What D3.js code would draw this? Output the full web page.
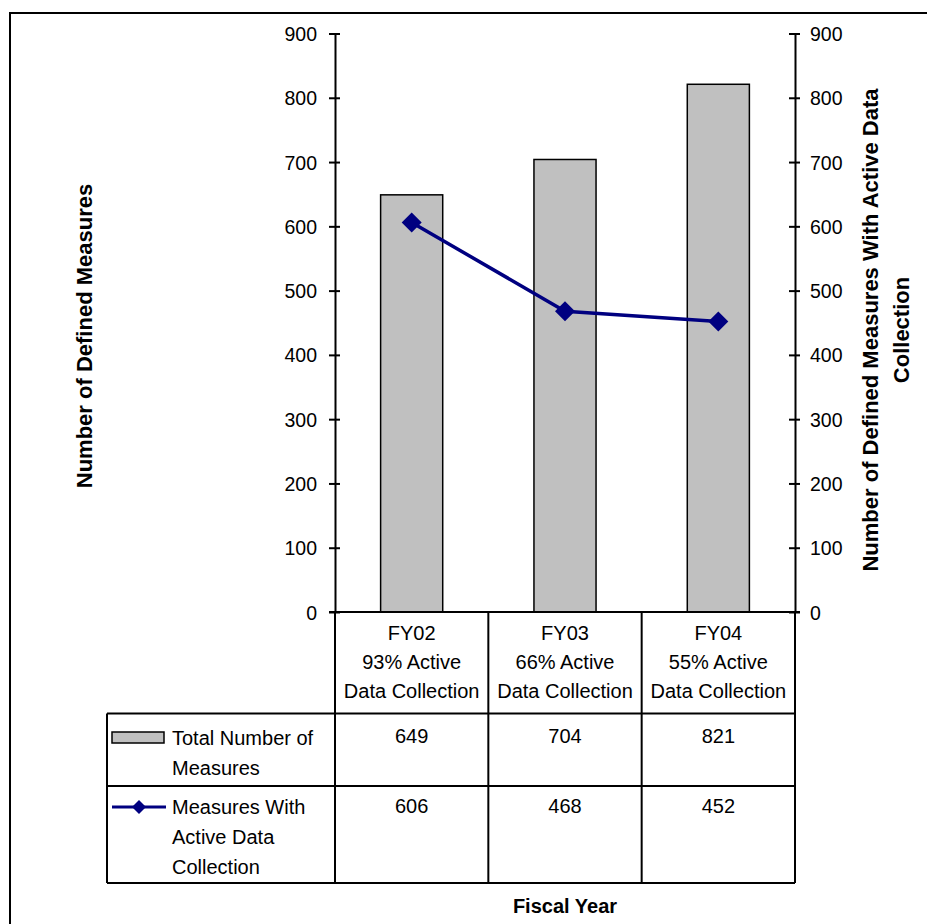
<!DOCTYPE html>
<html>
<head>
<meta charset="utf-8">
<script src="https://cdn.jsdelivr.net/npm/d3@7"></script>
<style>
  html, body { margin: 0; padding: 0; background: #fff; }
  svg { display: block; }
  text { font-family: Arial, "Liberation Sans", sans-serif; fill: #000; }
</style>
</head>
<body>
<svg id="chart" width="927" height="924"></svg>
<script>
// ---- Data ----
const categories = ["FY02", "FY03", "FY04"];
const categorySubLabels = [["93% Active", "Data Collection"], ["66% Active", "Data Collection"], ["55% Active", "Data Collection"]];
const totalMeasures = [649, 704, 821];
const activeMeasures = [606, 468, 452];
const yTicks = [0, 100, 200, 300, 400, 500, 600, 700, 800, 900];
const seriesNames = [["Total Number of", "Measures"], ["Measures With", "Active Data", "Collection"]];
const leftTitle = "Number of Defined Measures";
const rightTitleLines = ["Number of Defined Measures With Active Data", "Collection"];
const xTitle = "Fiscal Year";

// ---- Layout ----
const svg = d3.select("#chart");
const plotLeft = 335, plotRight = 795, plotTop = 33.5, plotBottom = 612;
const barColor = "#C0C0C0", lineColor = "#000080";

const x = d3.scaleBand().domain(categories).range([plotLeft, plotRight]).padding(0);
const y = d3.scaleLinear().domain([0, 900]).range([plotBottom, plotTop]);
const barW = x.bandwidth() * 0.405;

// outer frame
svg.append("rect").attr("x", 10).attr("y", 13).attr("width", 940).attr("height", 940)
  .attr("fill", "none").attr("stroke", "#000").attr("stroke-width", 2);

// bars
svg.append("g").selectAll("rect").data(categories).join("rect")
  .attr("x", d => x(d) + x.bandwidth() / 2 - barW / 2)
  .attr("y", (d, i) => y(totalMeasures[i]))
  .attr("width", barW)
  .attr("height", (d, i) => y(0) - y(totalMeasures[i]))
  .attr("fill", barColor).attr("stroke", "#000").attr("stroke-width", 1.5);

// axes
const leftAxis = d3.axisLeft(y).tickValues(yTicks).tickSize(0).tickPadding(18);
const gL = svg.append("g").attr("transform", `translate(${plotLeft},0)`).call(leftAxis);
const rightAxis = d3.axisRight(y).tickValues(yTicks).tickSize(0).tickPadding(15);
const gR = svg.append("g").attr("transform", `translate(${plotRight},0)`).call(rightAxis);
[gL, gR].forEach(g => {
  g.select(".domain").attr("stroke", "#000").attr("stroke-width", 2);
  g.selectAll(".tick text").style("font-size", "19.5px").style("font-family", "Arial, 'Liberation Sans', sans-serif").attr("fill", "#000").attr("dy", "0.36em");
  g.selectAll(".tick").append("line").attr("x1", -6).attr("x2", 5).attr("stroke", "#000").attr("stroke-width", 2);
});

// x axis line at 0
svg.append("line").attr("x1", plotLeft - 6).attr("x2", plotRight + 5).attr("y1", y(0)).attr("y2", y(0))
  .attr("stroke", "#000").attr("stroke-width", 2);

// line series
const cx = d => x(d) + x.bandwidth() / 2;
const lineGen = d3.line().x((d, i) => cx(categories[i])).y(d => y(d));
svg.append("path").datum(activeMeasures).attr("d", lineGen)
  .attr("fill", "none").attr("stroke", lineColor).attr("stroke-width", 3.5);
const diamond = r => `M0,${-r}L${r},0L0,${r}L${-r},0Z`;
svg.append("g").selectAll("path").data(activeMeasures).join("path")
  .attr("transform", (d, i) => `translate(${cx(categories[i])},${y(d)})`)
  .attr("d", diamond(10)).attr("fill", lineColor);

// ---- Data table ----
const tableLeft = 107, rowCatBottom = 713.5, row1Bottom = 786, row2Bottom = 883;
const tbl = svg.append("g").attr("stroke", "#000").attr("stroke-width", 2);
tbl.append("line").attr("x1", tableLeft).attr("x2", plotRight).attr("y1", rowCatBottom).attr("y2", rowCatBottom);
tbl.append("line").attr("x1", tableLeft).attr("x2", plotRight).attr("y1", row1Bottom).attr("y2", row1Bottom);
tbl.append("line").attr("x1", tableLeft).attr("x2", plotRight).attr("y1", row2Bottom).attr("y2", row2Bottom);
tbl.append("line").attr("x1", tableLeft).attr("x2", tableLeft).attr("y1", rowCatBottom).attr("y2", row2Bottom);
const colEdges = categories.map(c => x(c)).concat([plotRight]);
tbl.selectAll("line.col").data(colEdges).join("line").attr("class", "col")
  .attr("x1", d => d).attr("x2", d => d).attr("y1", plotBottom).attr("y2", row2Bottom);

// category header text
const hdr = svg.append("g").style("font-size", "20px").attr("text-anchor", "middle");
categories.forEach((c, i) => {
  const t = hdr.append("text").attr("x", cx(c));
  t.append("tspan").attr("x", cx(c)).attr("y", 640).text(c);
  t.append("tspan").attr("x", cx(c)).attr("y", 669).text(categorySubLabels[i][0]);
  t.append("tspan").attr("x", cx(c)).attr("y", 698).text(categorySubLabels[i][1]);
});

// values
const vals = svg.append("g").style("font-size", "20px").attr("text-anchor", "middle");
categories.forEach((c, i) => {
  vals.append("text").attr("x", cx(c)).attr("y", 743).text(totalMeasures[i]);
  vals.append("text").attr("x", cx(c)).attr("y", 813).text(activeMeasures[i]);
});

// legend keys
svg.append("rect").attr("x", 112).attr("y", 732).attr("width", 52).attr("height", 11)
  .attr("fill", barColor).attr("stroke", "#000").attr("stroke-width", 1.5);
svg.append("line").attr("x1", 112).attr("x2", 166).attr("y1", 807).attr("y2", 807)
  .attr("stroke", lineColor).attr("stroke-width", 3);
svg.append("path").attr("transform", "translate(139,807)").attr("d", diamond(7)).attr("fill", lineColor);

const leg = svg.append("g").style("font-size", "20px");
const l1 = leg.append("text");
l1.append("tspan").attr("x", 172).attr("y", 745).text(seriesNames[0][0]);
l1.append("tspan").attr("x", 172).attr("y", 775).text(seriesNames[0][1]);
const l2 = leg.append("text");
l2.append("tspan").attr("x", 172).attr("y", 814).text(seriesNames[1][0]);
l2.append("tspan").attr("x", 172).attr("y", 844).text(seriesNames[1][1]);
l2.append("tspan").attr("x", 172).attr("y", 874).text(seriesNames[1][2]);

// ---- Titles ----
svg.append("text").attr("transform", "translate(92,336) rotate(-90)")
  .attr("text-anchor", "middle").style("font-size", "22px").style("font-weight", "bold").text(leftTitle);
const rt = svg.append("text").attr("transform", "translate(878,330) rotate(-90)")
  .attr("text-anchor", "middle").style("font-size", "22px").style("font-weight", "bold");
rt.append("tspan").attr("x", 0).attr("y", 0).text(rightTitleLines[0]);
rt.append("tspan").attr("x", 0).attr("y", 31).text(rightTitleLines[1]);
svg.append("text").attr("x", 565).attr("y", 913).attr("text-anchor", "middle")
  .style("font-size", "20px").style("font-weight", "bold").text(xTitle);
</script>
</body>
</html>
